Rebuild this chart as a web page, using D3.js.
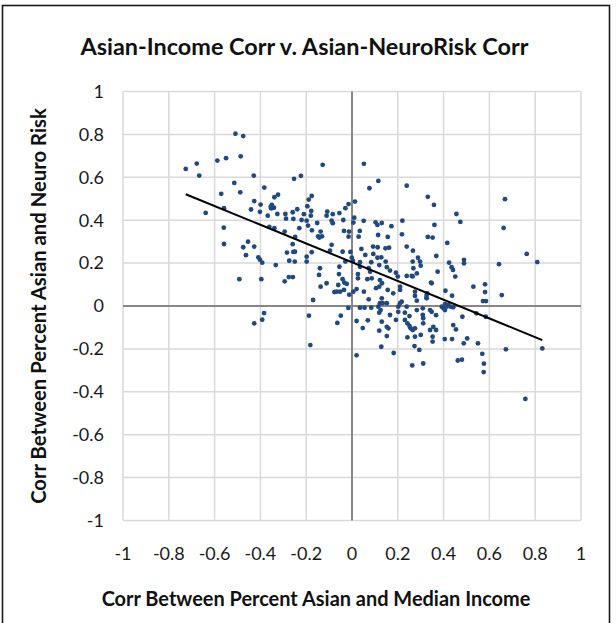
<!DOCTYPE html>
<html>
<head>
<meta charset="utf-8">
<script src="https://cdn.jsdelivr.net/npm/d3@7"></script>
<style>
  html, body { margin: 0; padding: 0; background: #fff; }
  svg { display: block; font-family: Lato, "Open Sans", sans-serif; }
</style>
</head>
<body>
<svg id="chart" width="616" height="623"></svg>
<script>
// Correlation of percent Asian with median income (x) and with neuro risk (y), one pair per area
const incomeCorr = [
  -0.509,-0.475,-0.726,-0.678,-0.667,-0.588,-0.550,-0.486,-0.429,-0.514,-0.383,-0.488,-0.571,-0.639,-0.559,-0.427,
  -0.399,-0.441,-0.402,-0.368,-0.350,-0.355,-0.341,-0.353,-0.339,-0.323,-0.326,-0.291,-0.288,-0.259,-0.256,-0.253,
  -0.560,-0.559,-0.454,-0.475,-0.427,-0.463,-0.361,-0.339,-0.294,-0.409,-0.402,-0.392,-0.333,-0.284,-0.259,-0.256,
  -0.492,-0.396,-0.294,-0.276,-0.258,-0.274,-0.249,
  -0.128,0.052,-0.223,0.076,0.115,0.239,0.331,0.358,-0.176,-0.189,-0.195,-0.178,-0.180,-0.210,-0.239,-0.220,
  -0.198,-0.192,-0.230,-0.248,-0.176,-0.198,-0.250,-0.198,-0.152,-0.175,-0.137,-0.131,-0.148,-0.143,-0.108,-0.111,
  -0.084,-0.089,-0.084,-0.055,-0.029,-0.015,0.013,-0.038,0.006,0.010,-0.035,-0.013,-0.015,0.029,0.034,0.051,
  -0.089,-0.096,-0.041,-0.007,-0.001,0.004,-0.029,0.035,0.041,0.058,0.092,0.093,0.112,0.111,0.128,0.146,
  0.162,0.147,0.084,0.103,0.111,0.130,0.172,0.114,0.156,0.220,0.218,0.239,0.266,0.288,0.265,0.297,
  0.331,0.352,0.360,
  0.456,0.473,0.668,0.662,0.763,0.809,0.642,0.654,0.530,0.581,0.581,0.572,0.585,0.416,0.424,0.435,
  0.441,0.451,0.489,0.489,0.408,0.437,0.368,0.374,0.345,0.329,0.325,0.268,0.283,0.265,
  -0.140,-0.144,-0.137,-0.111,-0.055,-0.057,-0.041,-0.034,-0.060,-0.023,-0.077,-0.067,-0.052,-0.035,-0.012,0.006,
  0.020,0.026,0.026,0.035,0.073,0.079,0.086,0.067,0.119,0.152,0.166,0.192,0.200,0.239,0.261,0.300,
  0.122,0.131,0.119,0.156,0.180,0.210,0.210,0.275,0.275,0.283,0.326,0.326,0.348,0.052,0.073,0.105,
  -0.016,0.035,0.055,0.084,0.115,0.122,0.134,0.152,0.130,0.119,0.125,0.166,0.202,0.210,0.217,0.202,
  0.239,0.231,0.251,0.283,0.309,0.309,0.348,-0.188,-0.170,-0.049,-0.064,0.020,0.069,0.047,-0.182,0.020,
  0.119,0.130,0.152,0.159,0.152,0.128,0.182,0.192,0.231,0.242,0.251,0.256,0.265,0.275,0.242,0.275,
  0.300,0.273,0.294,0.311,0.311,0.341,0.352,0.352,0.263,0.311,
  -0.384,-0.392,-0.427,
  0.392,0.406,0.413,0.420,0.431,0.442,0.406,0.399,0.341,0.367,0.482,0.543,0.584,0.442,0.454,0.355,
  0.367,0.405,0.437,0.503,0.488,0.550,0.672,0.831,0.569,0.576,0.575,0.462,0.480,0.757
];
const neuroRiskCorr = [
  0.803,0.792,0.639,0.664,0.608,0.678,0.689,0.698,0.608,0.574,0.552,0.530,0.523,0.434,0.456,0.489,
  0.473,0.450,0.439,0.421,0.471,0.463,0.458,0.455,0.507,0.519,0.429,0.429,0.407,0.437,0.406,0.593,
  0.365,0.289,0.300,0.274,0.277,0.237,0.369,0.363,0.347,0.227,0.216,0.202,0.191,0.249,0.288,0.252,
  0.125,0.125,0.115,0.135,0.135,0.211,0.253,
  0.658,0.663,0.607,0.549,0.583,0.561,0.509,0.471,0.513,0.496,0.465,0.443,0.421,0.428,0.451,0.401,
  0.398,0.375,0.363,0.322,0.251,0.230,0.207,0.207,0.387,0.353,0.347,0.325,0.325,0.319,0.440,0.421,
  0.428,0.398,0.386,0.433,0.456,0.475,0.487,0.401,0.389,0.412,0.350,0.347,0.323,0.323,0.350,0.397,
  0.285,0.258,0.253,0.252,0.225,0.210,0.207,0.204,0.266,0.238,0.277,0.243,0.274,0.225,0.227,0.269,
  0.272,0.207,0.204,0.390,0.378,0.387,0.372,0.331,0.322,0.398,0.334,0.277,0.258,0.225,0.207,0.207,
  0.322,0.319,0.378,
  0.429,0.392,0.498,0.364,0.243,0.205,0.195,0.051,0.090,0.101,0.065,0.023,0.023,0.294,0.202,0.181,
  0.168,0.137,0.215,0.199,0.071,0.048,0.233,0.160,0.109,0.059,0.039,0.176,0.152,0.138,
  0.176,0.145,0.090,0.106,0.183,0.149,0.125,0.109,0.098,0.103,0.065,0.067,0.067,0.075,0.053,0.067,
  0.079,0.149,0.129,0.183,0.176,0.160,0.129,0.125,0.191,0.181,0.165,0.155,0.137,0.140,0.140,0.188,
  0.121,0.106,0.090,0.075,0.059,0.075,0.090,0.067,0.047,0.025,0.051,0.036,0.106,0.067,0.031,0.083,
  -0.009,-0.008,-0.008,-0.008,-0.003,0.013,0.013,0.013,0.036,-0.031,-0.019,-0.042,-0.003,0.013,0.020,-0.027,
  -0.003,-0.031,-0.047,-0.019,-0.011,-0.042,-0.027,-0.045,0.028,-0.045,-0.079,-0.070,-0.067,-0.103,-0.182,-0.230,
  -0.115,-0.073,-0.097,-0.104,-0.140,-0.190,-0.219,-0.065,-0.065,-0.081,-0.093,-0.104,-0.112,-0.104,-0.146,-0.143,
  -0.135,-0.187,-0.205,-0.081,-0.057,-0.112,-0.143,-0.166,-0.277,-0.268,
  -0.033,-0.064,-0.081,
  -0.003,0.009,-0.003,0.005,-0.003,-0.006,-0.019,-0.011,-0.019,-0.043,-0.050,-0.034,-0.050,-0.089,-0.109,-0.097,
  -0.112,-0.154,-0.154,-0.151,-0.174,-0.174,-0.202,-0.198,-0.223,-0.269,-0.308,-0.254,-0.250,-0.433
];

// Axis ticks, shared by both axes
const tickValues = [-1, -0.8, -0.6, -0.4, -0.2, 0, 0.2, 0.4, 0.6, 0.8, 1];
const tickLabels = ["-1", "-0.8", "-0.6", "-0.4", "-0.2", "0", "0.2", "0.4", "0.6", "0.8", "1"];

// Linear trendline y = slope * x + intercept
const trendSlope = -0.4366;
const trendIntercept = 0.204;

const titleText = "Asian-Income Corr v. Asian-NeuroRisk Corr";
const xAxisTitle = "Corr Between Percent Asian and Median Income";
const yAxisTitle = "Corr Between Percent Asian and Neuro Risk";

const points = incomeCorr.map((x, i) => ({ x, y: neuroRiskCorr[i] }));

const svg = d3.select("#chart");
const x = d3.scaleLinear().domain([-1, 1]).range([123, 581]);
const y = d3.scaleLinear().domain([-1, 1]).range([520.5, 91.5]);

// Shrink or grow a text element's font size so it spans the given width
function fitWidth(sel, width) {
  const node = sel.node();
  const size = parseFloat(sel.attr("font-size"));
  const w = node.getComputedTextLength();
  sel.attr("font-size", (size * width / w).toFixed(2));
}

// Chart frame
svg.append("rect")
  .attr("x", 2.5).attr("y", 5.5)
  .attr("width", 607).attr("height", 630)
  .attr("fill", "#fff").attr("stroke", "#1a1a1a").attr("stroke-width", 1.6);

// Gridlines
const grid = svg.append("g").attr("stroke", "#d9d9d9").attr("stroke-width", 1.5);
grid.selectAll("line.v").data(tickValues).join("line").attr("class", "v")
  .attr("x1", d => x(d)).attr("x2", d => x(d))
  .attr("y1", y(-1)).attr("y2", y(1));
grid.selectAll("line.h").data(tickValues).join("line").attr("class", "h")
  .attr("y1", d => y(d)).attr("y2", d => y(d))
  .attr("x1", x(-1)).attr("x2", x(1));

// Zero axes
const axes = svg.append("g").attr("stroke", "#878787").attr("stroke-width", 2);
axes.append("line").attr("x1", x(0)).attr("x2", x(0)).attr("y1", y(-1)).attr("y2", y(1));
axes.append("line").attr("y1", y(0)).attr("y2", y(0)).attr("x1", x(-1)).attr("x2", x(1));

// Tick labels
const tickFont = 18;
svg.append("g").selectAll("text").data(tickValues).join("text")
  .attr("x", 104).attr("y", d => y(d))
  .attr("dy", "0.35em").attr("text-anchor", "end")
  .attr("font-size", tickFont).attr("fill", "#1a1a1a")
  .text((d, i) => tickLabels[i]);
svg.append("g").selectAll("text").data(tickValues).join("text")
  .attr("x", d => x(d)).attr("y", 560)
  .attr("text-anchor", "middle")
  .attr("font-size", tickFont).attr("fill", "#1a1a1a")
  .text((d, i) => tickLabels[i]);

// Scatter points
svg.append("g").selectAll("circle").data(points).join("circle")
  .attr("cx", d => x(d.x)).attr("cy", d => y(d.y))
  .attr("r", 2.4).attr("fill", "#20497f");

// Trendline across the range of the data
const xExtent = d3.extent(incomeCorr);
svg.append("line")
  .attr("x1", x(xExtent[0])).attr("y1", y(trendSlope * xExtent[0] + trendIntercept))
  .attr("x2", x(xExtent[1])).attr("y2", y(trendSlope * xExtent[1] + trendIntercept))
  .attr("stroke", "#000").attr("stroke-width", 2);

// Titles
const title = svg.append("text")
  .attr("x", 304.5).attr("y", 55).attr("text-anchor", "middle")
  .attr("font-size", 21).attr("font-weight", 700).attr("fill", "#111")
  .text(titleText);
fitWidth(title, 448);

const xt = svg.append("text")
  .attr("x", 316).attr("y", 606).attr("text-anchor", "middle")
  .attr("font-size", 15).attr("font-weight", 700).attr("fill", "#111")
  .text(xAxisTitle);
fitWidth(xt, 429);

const yt = svg.append("text")
  .attr("transform", "translate(46," + y(0) + ") rotate(-90)")
  .attr("text-anchor", "middle")
  .attr("font-size", 15).attr("font-weight", 700).attr("fill", "#111")
  .text(yAxisTitle);
fitWidth(yt, 396);
</script>
</body>
</html>
